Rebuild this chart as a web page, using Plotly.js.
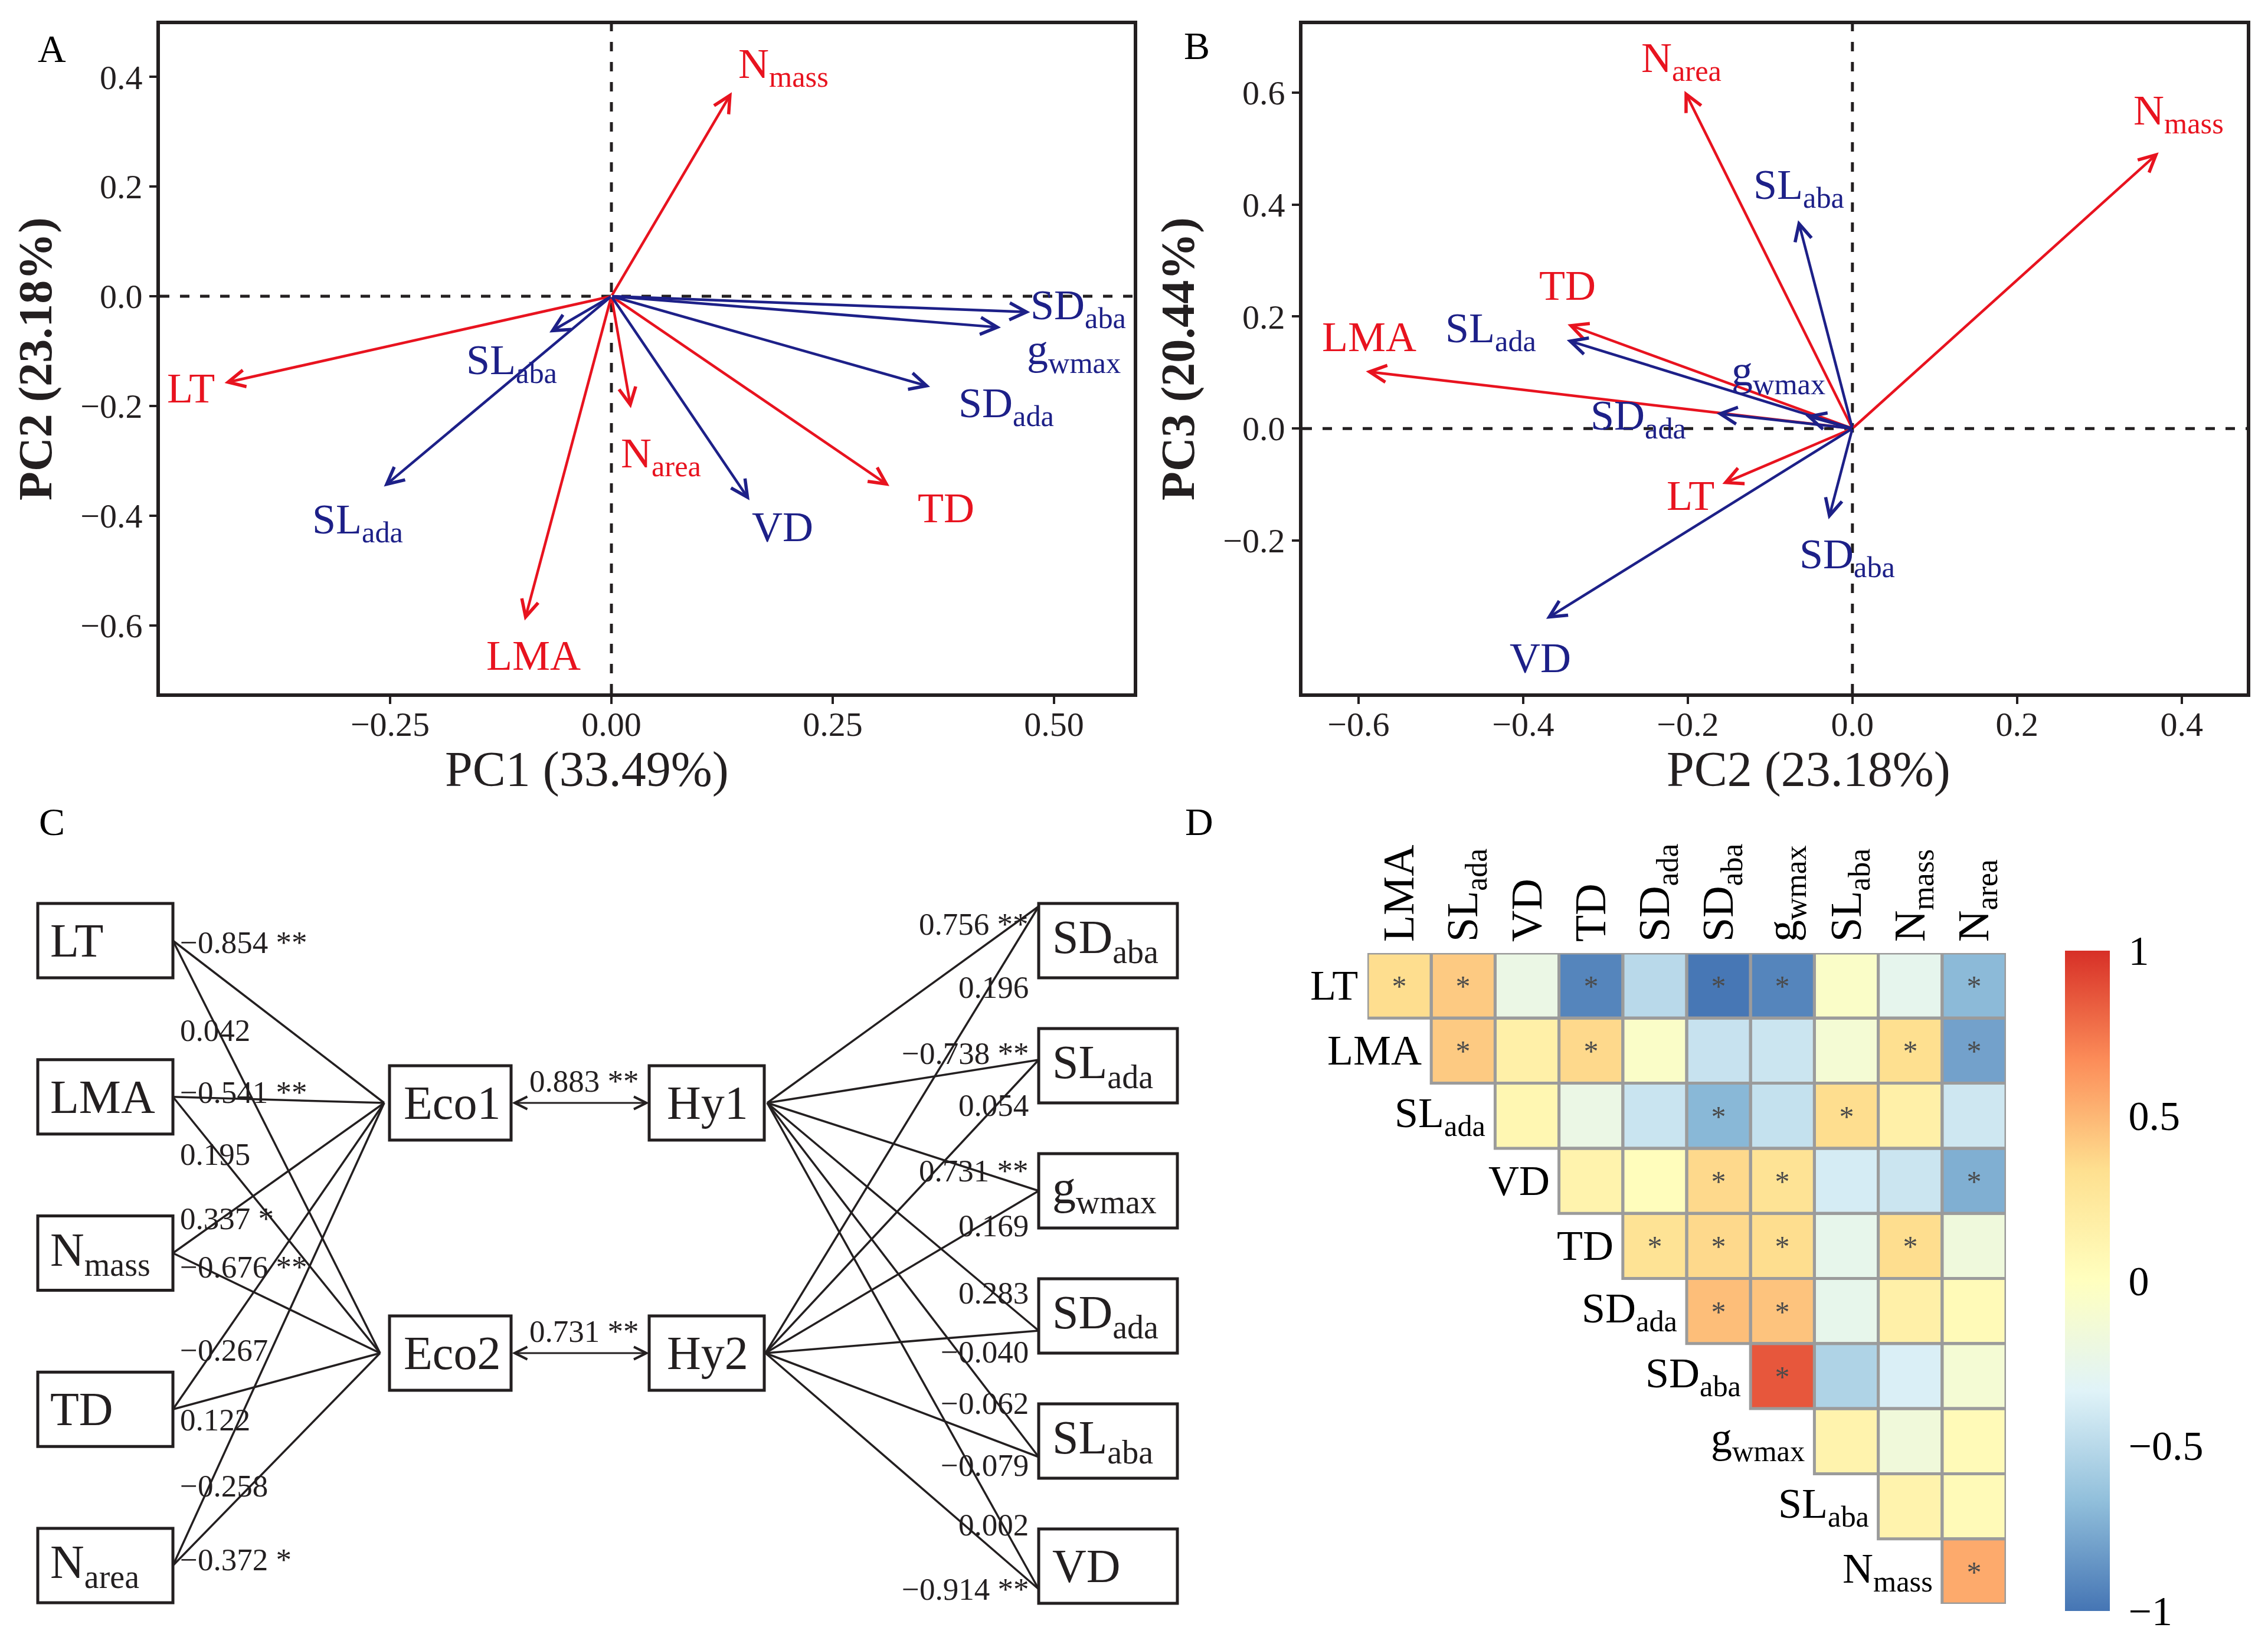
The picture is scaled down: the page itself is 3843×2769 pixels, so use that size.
<!DOCTYPE html>
<html><head><meta charset="utf-8">
<script src="https://cdn.plot.ly/plotly-3.0.1.min.js"></script>
<style>html,body{margin:0;padding:0;background:#fff}#plot{width:3843px;height:2769px}</style>
</head><body><div id="plot"></div>
<script>
// ================= DATA =================
// PCA loadings (panels A and B)
const traits      = ['LT','LMA','Nmass','Narea','TD','SDaba','SDada','SLaba','SLada','gwmax','VD'];
const traitLabels = ['LT','LMA','N<sub>mass</sub>','N<sub>area</sub>','TD','SD<sub>aba</sub>','SD<sub>ada</sub>','SL<sub>aba</sub>','SL<sub>ada</sub>','g<sub>wmax</sub>','VD'];
const traitGroup  = ['eco','eco','eco','eco','eco','hy','hy','hy','hy','hy','hy'];
const pc1 = [-0.437,-0.098, 0.136, 0.022, 0.314, 0.473, 0.360,-0.070,-0.257, 0.440, 0.156];
const pc2 = [-0.158,-0.591, 0.372,-0.204,-0.346,-0.029,-0.165,-0.066,-0.347,-0.057,-0.372];
const pc3 = [-0.099, 0.102, 0.493, 0.603, 0.186,-0.162, 0.027, 0.372, 0.158, 0.023,-0.340];
const pcTitles = ['PC1 (33.49%)','PC2 (23.18%)','PC3 (20.44%)'];

// Structural model (panel C)
const ecoTraits = ['LT','LMA','N<sub>mass</sub>','TD','N<sub>area</sub>'];
const eco1Coef  = [-0.854,-0.541, 0.337,-0.267,-0.258];
const eco1Sig   = ['**','**','*','',''];
const eco2Coef  = [ 0.042, 0.195,-0.676, 0.122,-0.372];
const eco2Sig   = ['','','**','','*'];
const hyTraits  = ['SD<sub>aba</sub>','SL<sub>ada</sub>','g<sub>wmax</sub>','SD<sub>ada</sub>','SL<sub>aba</sub>','VD'];
const hy1Coef   = [ 0.756,-0.738, 0.731, 0.283,-0.062, 0.002];
const hy1Sig    = ['**','**','**','','',''];
const hy2Coef   = [ 0.196, 0.054, 0.169,-0.040,-0.079,-0.914];
const hy2Sig    = ['','','','','','**'];
const latentNames = [['Eco1','Hy1'],['Eco2','Hy2']];
const latentCor   = [0.883, 0.731];
const latentSig   = ['**','**'];

// Correlation matrix (panel D)
const corRows = ['LT','LMA','SL<sub>ada</sub>','VD','TD','SD<sub>ada</sub>','SD<sub>aba</sub>','g<sub>wmax</sub>','SL<sub>aba</sub>','N<sub>mass</sub>'];
const corCols = ['LMA','SL<sub>ada</sub>','VD','TD','SD<sub>ada</sub>','SD<sub>aba</sub>','g<sub>wmax</sub>','SL<sub>aba</sub>','N<sub>mass</sub>','N<sub>area</sub>'];
const corLT    = [0.34, 0.42,-0.22,-0.93,-0.50,-0.99,-0.93,-0.05,-0.27,-0.69];
const corLMA   = [null, 0.42, 0.16, 0.36,-0.05,-0.44,-0.42,-0.12, 0.33,-0.80];
const corSLada = [null,null, 0.09,-0.22,-0.43,-0.70,-0.45, 0.34, 0.16,-0.41];
const corVD    = [null,null,null, 0.13, 0.02, 0.36, 0.30,-0.38,-0.42,-0.74];
const corTD    = [null,null,null,null, 0.30, 0.36, 0.34,-0.26, 0.34,-0.17];
const corSDada = [null,null,null,null,null, 0.47, 0.45,-0.26, 0.16, 0.05];
const corSDaba = [null,null,null,null,null,null, 0.86,-0.54,-0.36,-0.12];
const corGwmax = [null,null,null,null,null,null,null, 0.13,-0.16, 0.05];
const corSLaba = [null,null,null,null,null,null,null,null, 0.13, 0.05];
const corNmass = [null,null,null,null,null,null,null,null,null, 0.55];
const sigLT    = [1,1,0,1,0,1,1,0,0,1];
const sigLMA   = [0,1,0,1,0,0,0,0,1,1];
const sigSLada = [0,0,0,0,0,1,0,1,0,0];
const sigVD    = [0,0,0,0,0,1,1,0,0,1];
const sigTD    = [0,0,0,0,1,1,1,0,1,0];
const sigSDada = [0,0,0,0,0,1,1,0,0,0];
const sigSDaba = [0,0,0,0,0,0,1,0,0,0];
const sigGwmax = [0,0,0,0,0,0,0,0,0,0];
const sigSLaba = [0,0,0,0,0,0,0,0,0,0];
const sigNmass = [0,0,0,0,0,0,0,0,0,1];

// ================= STYLE / LAYOUT CONSTANTS =================
const W = 3843, H = 2769;
const FONT = '"Liberation Serif","Times New Roman",serif';
const INK = '#231f20';
const RED = '#E8131F', BLUE = '#1D2088';
const colorOf = g => g === 'eco' ? RED : BLUE;
const px = v => v / W;          // horizontal pixel -> paper
const py = v => 1 - v / H;      // vertical pixel -> paper

// label placement (data units of each biplot)
const labA = {LT:[-0.475,-0.168],LMA:[-0.088,-0.655],Nmass:[0.194,0.418],Narea:[0.056,-0.292],TD:[0.378,-0.386],
  SDaba:[0.527,-0.022],SDada:[0.446,-0.200],SLaba:[-0.113,-0.122],SLada:[-0.287,-0.412],gwmax:[0.522,-0.103],VD:[0.193,-0.421]};
const labB = {LT:[-0.197,-0.120],LMA:[-0.587,0.163],Nmass:[0.396,0.563],Narea:[-0.208,0.657],TD:[-0.346,0.255],
  SDaba:[-0.006,-0.230],SDada:[-0.260,0.018],SLaba:[-0.065,0.430],SLada:[-0.439,0.174],gwmax:[-0.090,0.097],VD:[-0.379,-0.410]};

const fmt = v => (v < 0 ? '\u2212' : '') + Math.abs(v).toFixed(3);
const withSig = (v, s) => fmt(v) + (s ? ' ' + s : '');

const annotations = [];
const shapes = [];

// ================= PANELS A & B (biplots) =================
function biplot(xs, ys, xr, yr, lab) {
  traits.forEach((t, i) => {
    const col = colorOf(traitGroup[i]);
    annotations.push({xref:xr, yref:yr, axref:xr, ayref:yr, x:xs[i], y:ys[i], ax:0, ay:0,
      text:'', showarrow:true, arrowhead:5, arrowsize:1.25, arrowwidth:4.5, arrowcolor:col, standoff:0});
    annotations.push({xref:xr, yref:yr, x:lab[t][0], y:lab[t][1], text:traitLabels[i], showarrow:false,
      xanchor:'center', yanchor:'middle', font:{family:FONT, size:72, color:col}});
  });
  const dom = r => r.replace(/^([xy])(\d*)$/, '$1$2 domain');
  shapes.push({type:'line', xref:xr, yref:dom(yr), x0:0, x1:0, y0:0, y1:1, line:{color:INK, width:5, dash:'16px,18px'}, layer:'below'});
  shapes.push({type:'line', xref:dom(xr), yref:yr, x0:0, x1:1, y0:0, y1:0, line:{color:INK, width:5, dash:'16px,18px'}, layer:'below'});
}
biplot(pc1, pc2, 'x', 'y', labA);
biplot(pc2, pc3, 'x2', 'y2', labB);
// x-axis titles of the biplots (placed as in the reference)
[[pcTitles[0], 994], [pcTitles[1], 3064]].forEach(([t, x]) => {
  annotations.push({xref:'paper', yref:'paper', x:px(x), y:py(1304), text:t, showarrow:false,
    xanchor:'center', yanchor:'middle', font:{family:FONT, size:84, color:INK}});
});

// ================= PANEL C (structural model) =================
const leftX = [64, 293], ecoX = [660, 866], hyX = [1100, 1295], rightX = [1760, 1995];
const boxHalf = 63;
const leftCy  = ecoTraits.map((_, k) => 1594 + k * 264.75);
const rightCy = hyTraits.map((_, j) => 1594 + j * 212);
const latCy   = [1869, 2293];
const rightAnchorDy = [-58, -10, 0, 25, 27, 39];
const eco1Dy = [3, -8, -59, -100, -135], eco2Dy = [152, 97, 23, 18, -10];
const hy1Dy = [30, -11, -34, -64, -91, -109], hy2Dy = [137, 77, 59, 36, 14, 0];
const boxStyle = {color:INK, width:5};
const boxText = (x, y, t) => annotations.push({xref:'x3', yref:'y3', x:x, y:y, text:t, showarrow:false,
  xanchor:'left', yanchor:'middle', font:{family:FONT, size:80, color:INK}});
const coefText = (x, y, t, anchor) => annotations.push({xref:'x3', yref:'y3', x:x, y:y, text:t, showarrow:false,
  xanchor:anchor, yanchor:'middle', font:{family:FONT, size:53, color:INK}});
const seg = (x0, y0, x1, y1) => shapes.push({type:'line', xref:'x3', yref:'y3', x0, y0, x1, y1, line:{color:INK, width:3.5}});

ecoTraits.forEach((t, k) => {
  const cy = leftCy[k];
  shapes.push({type:'rect', xref:'x3', yref:'y3', x0:leftX[0], x1:leftX[1], y0:cy - boxHalf, y1:cy + boxHalf, line:boxStyle});
  boxText(leftX[0] + 19, cy, t);
  seg(leftX[1], cy, 651, latCy[0]);
  seg(leftX[1], cy, 644, latCy[1]);
  coefText(303, cy + eco1Dy[k], withSig(eco1Coef[k], eco1Sig[k]), 'left');
  coefText(303, cy + eco2Dy[k], withSig(eco2Coef[k], eco2Sig[k]), 'left');
});
hyTraits.forEach((t, j) => {
  const cy = rightCy[j];
  const ay = cy + rightAnchorDy[j];
  shapes.push({type:'rect', xref:'x3', yref:'y3', x0:rightX[0], x1:rightX[1], y0:cy - boxHalf, y1:cy + boxHalf, line:boxStyle});
  boxText(rightX[0] + 21, cy, t);
  seg(1300, latCy[0], rightX[0], ay);
  seg(1297, latCy[1], rightX[0], ay);
  coefText(1745, ay + hy1Dy[j], withSig(hy1Coef[j], hy1Sig[j]), 'right');
  coefText(1745, ay + hy2Dy[j], withSig(hy2Coef[j], hy2Sig[j]), 'right');
});
latentNames.forEach((pair, m) => {
  const cy = latCy[m];
  shapes.push({type:'rect', xref:'x3', yref:'y3', x0:ecoX[0], x1:ecoX[1], y0:cy - boxHalf, y1:cy + boxHalf, line:boxStyle});
  shapes.push({type:'rect', xref:'x3', yref:'y3', x0:hyX[0], x1:hyX[1], y0:cy - boxHalf, y1:cy + boxHalf, line:boxStyle});
  boxText(ecoX[0] + 22, cy, pair[0]);
  boxText(hyX[0] + 28, cy, pair[1]);
  annotations.push({xref:'x3', yref:'y3', axref:'x3', ayref:'y3', x:hyX[0], y:cy, ax:ecoX[1], ay:cy, text:'',
    showarrow:true, arrowside:'end+start', arrowhead:5, startarrowhead:5, arrowsize:1.4, startarrowsize:1.4,
    arrowwidth:3, arrowcolor:INK, standoff:0, startstandoff:0});
  annotations.push({xref:'x3', yref:'y3', x:(ecoX[1] + hyX[0]) / 2 + 7, y:cy - 37, text:withSig(latentCor[m], latentSig[m]),
    showarrow:false, xanchor:'center', yanchor:'middle', font:{family:FONT, size:53, color:INK}});
});

// ================= PANEL D (correlation heatmap) =================
const corZ = [corLT, corLMA, corSLada, corVD, corTD, corSDada, corSDaba, corGwmax, corSLaba, corNmass];
const sigZ = [sigLT, sigLMA, sigSLada, sigVD, sigTD, sigSDada, sigSDaba, sigGwmax, sigSLaba, sigNmass];
const starText = sigZ.map((row, r) => row.map((s, c) => (corZ[r][c] !== null && s) ? '*' : ''));
corZ.forEach((row, r) => {
  row.forEach((v, c) => {
    if (v === null) return;
    shapes.push({type:'rect', xref:'x4', yref:'y4', x0:c - 0.5, x1:c + 0.5, y0:r - 0.5, y1:r + 0.5,
      line:{color:'#9b9b9b', width:5}, fillcolor:'rgba(0,0,0,0)'});
  });
  annotations.push({xref:'x4', yref:'y4', x:r - 0.5, y:r, xshift:-14, text:corRows[r], showarrow:false,
    xanchor:'right', yanchor:'middle', font:{family:FONT, size:72, color:'#000'}});
});

// Panel letters
[['A',62,82],['B',2004,77],['C',64,1392],['D',2006,1392]].forEach(([t, x, y]) => {
  annotations.push({xref:'paper', yref:'paper', x:px(x), y:py(y), text:t, showarrow:false,
    xanchor:'left', yanchor:'middle', font:{family:FONT, size:66, color:'#000'}});
});

// ================= TRACES =================
const traces = [
  {type:'scatter', mode:'markers', x:pc1, y:pc2, xaxis:'x', yaxis:'y', marker:{size:1, opacity:0}, hoverinfo:'skip'},
  {type:'scatter', mode:'markers', x:pc2, y:pc3, xaxis:'x2', yaxis:'y2', marker:{size:1, opacity:0}, hoverinfo:'skip'},
  {type:'scatter', mode:'markers', x:[0], y:[2000], xaxis:'x3', yaxis:'y3', marker:{size:1, opacity:0}, hoverinfo:'skip'},
  {type:'heatmap', z:corZ, x:corCols.map((_, i) => i), y:corRows.map((_, i) => i), xaxis:'x4', yaxis:'y4',
    zmin:-1, zmax:1, hoverinfo:'skip', text:starText, texttemplate:'%{text}',
    textfont:{family:FONT, size:50, color:'#4a4a4a'},
    colorscale:[[0,'#4575b4'],[1/6,'#91bfdb'],[2/6,'#e0f3f8'],[0.5,'#ffffbf'],[4/6,'#fee090'],[5/6,'#fc8d59'],[1,'#d73027']],
    colorbar:{x:px(3499), xanchor:'left', y:py(2170), yanchor:'middle', len:1119 / H, lenmode:'fraction',
      thickness:76, thicknessmode:'pixels', outlinewidth:0, xpad:0, ypad:0,
      tickvals:[-1,-0.5,0,0.5,1], ticktext:['\u22121','\u22120.5','0','0.5','1'],
      ticks:'outside', ticklen:18, tickcolor:'rgba(0,0,0,0)', tickfont:{family:FONT, size:70, color:'#000'}}}
];

// ================= AXES =================
const frameAxis = {showline:true, mirror:true, linewidth:6, linecolor:INK, showgrid:false, zeroline:false,
  ticks:'outside', ticklen:12, tickwidth:4, tickcolor:INK, automargin:false,
  tickfont:{family:FONT, size:58, color:INK}};

const layout = {
  width:W, height:H, margin:{l:0, r:0, t:0, b:0}, paper_bgcolor:'#fff', plot_bgcolor:'rgba(0,0,0,0)',
  showlegend:false, font:{family:FONT, color:INK},
  xaxis: Object.assign({}, frameAxis, {domain:[px(271), px(1921)], range:[-0.51, 0.59], anchor:'y',
    tickvals:[-0.25, 0, 0.25, 0.5], tickformat:'.2f', ticklabelstandoff:-16}),
  yaxis: Object.assign({}, frameAxis, {domain:[py(1175), py(41)], range:[-0.724, 0.496], anchor:'x',
    tickvals:[-0.6, -0.4, -0.2, 0, 0.2, 0.4], tickformat:'.1f',
    title:{text:'<b>' + pcTitles[1] + '</b>', standoff:24, font:{family:FONT, size:80, color:INK}}}),
  xaxis2: Object.assign({}, frameAxis, {domain:[px(2207), px(3807)], range:[-0.668, 0.479], anchor:'y2',
    tickvals:[-0.6, -0.4, -0.2, 0, 0.2, 0.4], tickformat:'.1f', ticklabelstandoff:-16}),
  yaxis2: Object.assign({}, frameAxis, {domain:[py(1175), py(41)], range:[-0.473, 0.722], anchor:'x2',
    tickvals:[-0.2, 0, 0.2, 0.4, 0.6], tickformat:'.1f',
    title:{text:'<b>' + pcTitles[2] + '</b>', standoff:24, font:{family:FONT, size:80, color:INK}}}),
  xaxis3: {domain:[0, px(2000)], range:[0, 2000], anchor:'y3', visible:false, fixedrange:true},
  yaxis3: {domain:[0, py(1380)], range:[2769, 1380], anchor:'x3', visible:false, fixedrange:true},
  xaxis4: {domain:[px(2317), px(3399)], range:[-0.5, 9.5], anchor:'y4', side:'top',
    tickvals:corCols.map((_, i) => i), ticktext:corCols, tickangle:-90, ticks:'', showline:false,
    showgrid:false, zeroline:false, automargin:false, ticklabelstandoff:18,
    tickfont:{family:FONT, size:74, color:'#000'}},
  yaxis4: {domain:[py(2718), py(1615)], range:[9.5, -0.5], anchor:'x4', showticklabels:false, ticks:'',
    showline:false, showgrid:false, zeroline:false, automargin:false},
  annotations: annotations,
  shapes: shapes
};

Plotly.newPlot('plot', traces, layout, {staticPlot:true, displayModeBar:false});
</script>
</body></html>
